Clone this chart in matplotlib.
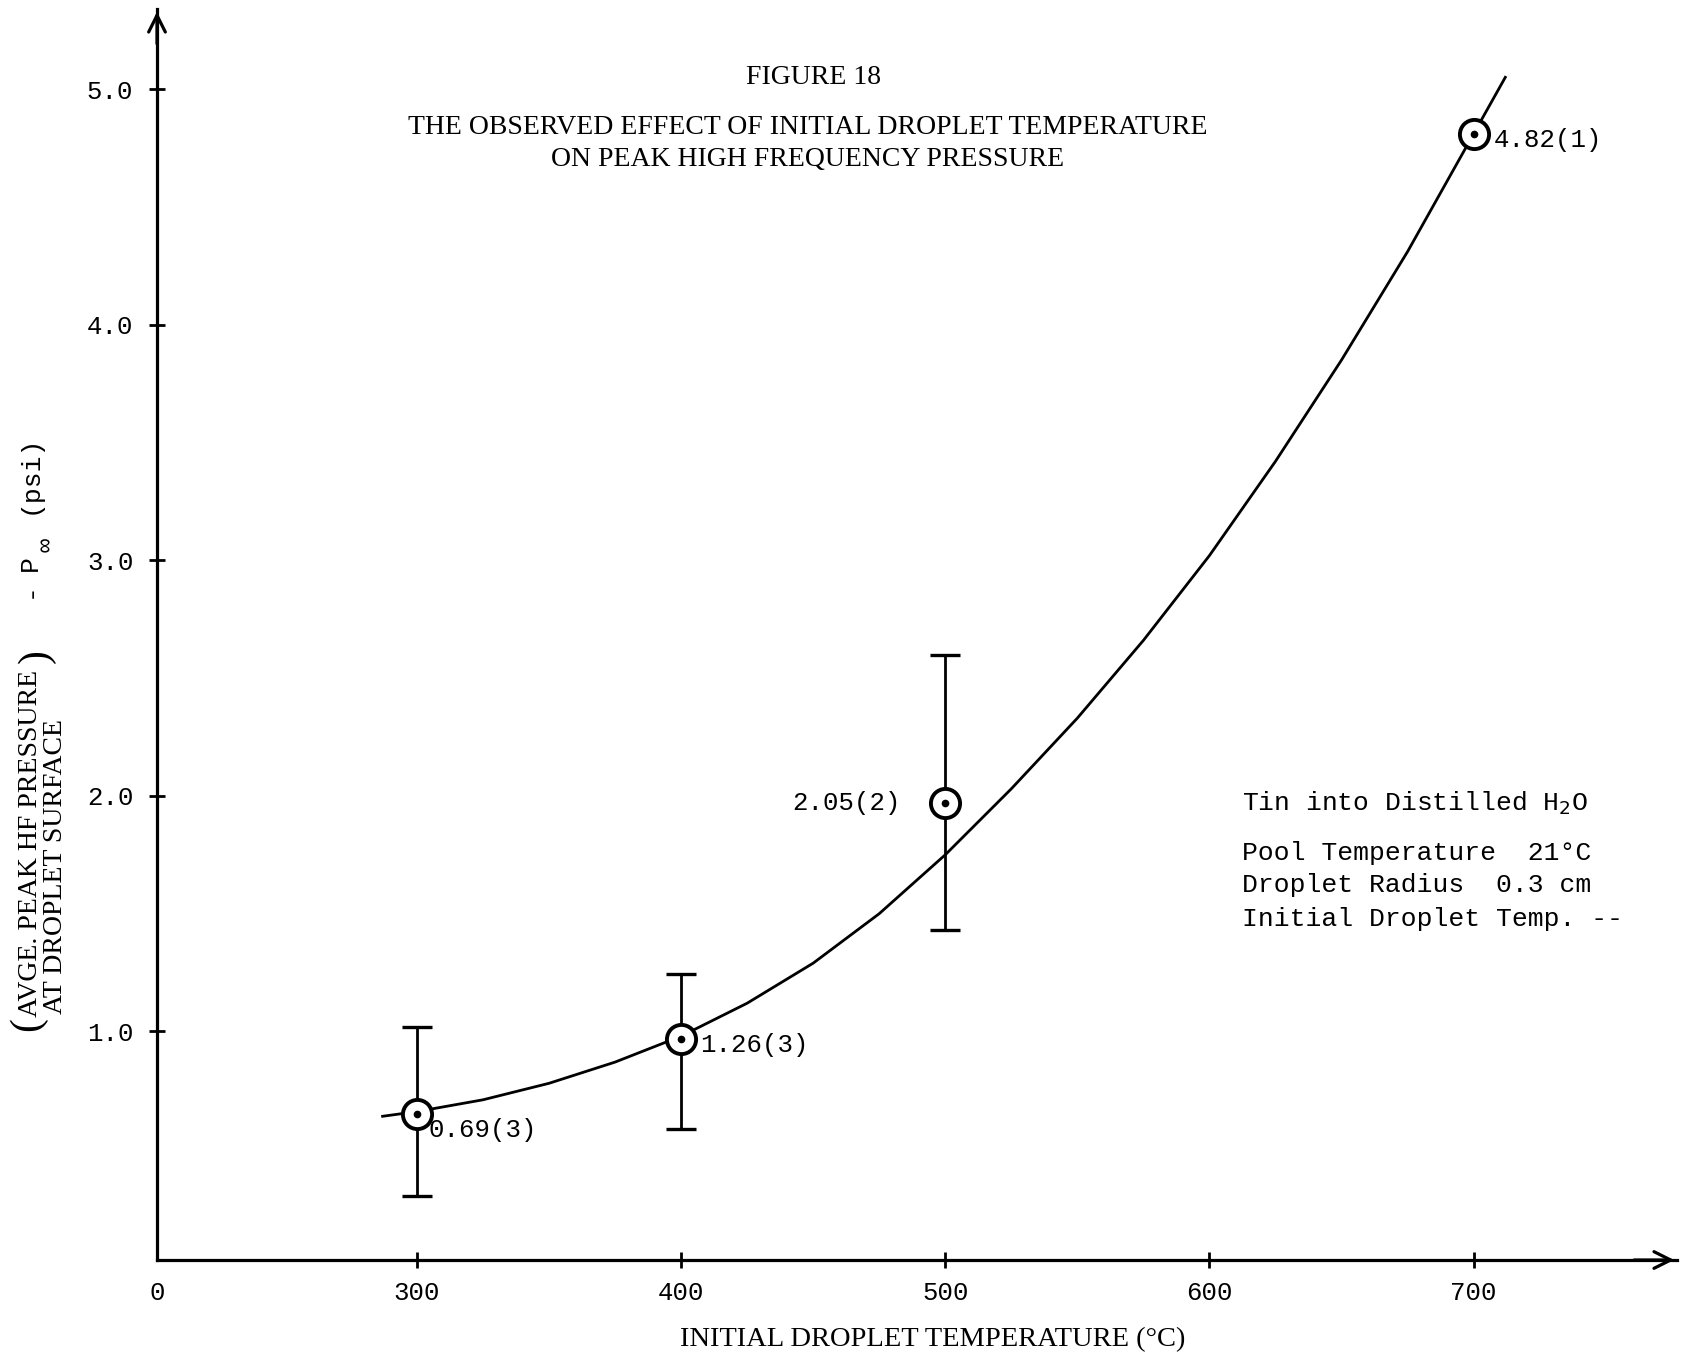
import matplotlib
matplotlib.use("Agg")
import matplotlib.pyplot as plt
import numpy as np

# data
pt_temp = [300, 400, 500, 700]
pt_pres = [0.65, 0.97, 1.97, 4.81]
pt_text = ["0.69(3)", "1.26(3)", "2.05(2)", "4.82(1)"]

bar_temp = [300, 400, 500]
bar_mid = [0.65, 0.97, 1.97]
bar_low = [0.30, 0.585, 1.43]
bar_high = [1.02, 1.245, 2.60]

curve_temp = [287, 300, 325, 350, 375, 400, 425, 450, 475, 500, 525, 550,
              575, 600, 625, 650, 675, 690, 700, 712]
curve_pres = [0.64, 0.66, 0.71, 0.78, 0.87, 0.98, 1.12, 1.29, 1.50, 1.75, 2.03, 2.33,
              2.66, 3.02, 3.42, 3.85, 4.31, 4.61, 4.81, 5.05]

x_ticks = [300, 400, 500, 600, 700]
y_ticks = [1.0, 2.0, 3.0, 4.0, 5.0]

legend_lines = ["Tin into Distilled H$_2$O", "Pool Temperature  21°C",
                "Droplet Radius  0.3 cm", "Initial Droplet Temp. --"]

W, H = 1691, 1357
mono = ["Liberation Mono", "DejaVu Sans Mono"]
serif = ["Liberation Serif", "DejaVu Serif"]

fig = plt.figure(figsize=(W / 100, H / 100), dpi=100)
ax = fig.add_axes([157 / W, 1 - 1260 / H, (1677 - 157) / W, (1260 - 9) / H])

xmin, xmax = 201.6, 777
ax.set_xlim(xmin, xmax)
ax.set_ylim(0.03, 5.34)

for s in ["top", "right"]:
    ax.spines[s].set_visible(False)
for s in ["left", "bottom"]:
    ax.spines[s].set_linewidth(2.3)

# arrow heads on the axes
ax.annotate("", xy=(1.0, 0), xycoords="axes fraction", xytext=(0.97, 0),
            arrowprops=dict(arrowstyle="->", lw=2.3, mutation_scale=30))
ax.annotate("", xy=(0, 1.0), xycoords="axes fraction", xytext=(0, 0.97),
            arrowprops=dict(arrowstyle="->", lw=2.3, mutation_scale=30))

ax.set_xticks([xmin] + x_ticks)
ax.set_xticklabels(["0"] + [str(t) for t in x_ticks], family=mono, fontsize=18.5)
ax.set_yticks(y_ticks)
ax.set_yticklabels([f"{t:.1f}" for t in y_ticks], family=mono, fontsize=18.5)
ax.tick_params(axis="both", direction="inout", length=12, width=2)
ax.tick_params(axis="y", pad=11)
ax.tick_params(axis="x", pad=9)
ax.xaxis.get_major_ticks()[0].tick1line.set_visible(False)

# fitted curve
ax.plot(curve_temp, curve_pres, color="black", lw=2.0, zorder=2,
        solid_joinstyle="round")

# error bars
bar_mid = np.array(bar_mid)
yerr = [bar_mid - np.array(bar_low), np.array(bar_high) - bar_mid]
ax.errorbar(bar_temp, bar_mid, yerr=yerr, fmt="none", ecolor="black",
            elinewidth=2.0, capsize=11, capthick=2.4, zorder=3)

# data points: open circle with centre dot
ax.plot(pt_temp, pt_pres, "o", ms=21, mfc="white", mec="black", mew=2.8, zorder=4)
ax.plot(pt_temp, pt_pres, "o", ms=4.5, color="black", zorder=5)

offsets = [(8.6, -11.6, "left"), (14, -5, "left"), (-32, 0, "right"), (14.8, -4.6, "left")]
for t, p, s, (dx, dy, ha) in zip(pt_temp, pt_pres, pt_text, offsets):
    ax.annotate(s, (t, p), xytext=(dx, dy), textcoords="offset points",
                ha=ha, va="center", family=mono, fontsize=18.5, zorder=6)

# titles
fig.text(814 / W, 1 - 78 / H, "FIGURE 18", ha="center", va="center",
         family=serif, fontsize=20)
fig.text(808 / W, 1 - 127 / H, "THE OBSERVED EFFECT OF INITIAL DROPLET TEMPERATURE",
         ha="center", va="center", family=serif, fontsize=20)
fig.text(808 / W, 1 - 160 / H, "ON PEAK HIGH FREQUENCY PRESSURE",
         ha="center", va="center", family=serif, fontsize=20)

fig.text(933 / W, 1 - 1340 / H, "INITIAL DROPLET TEMPERATURE (°C)",
         ha="center", va="center", family=serif, fontsize=20.5)

# y label pieces
fig.text(31 / W, 1 - 843 / H, "AVGE. PEAK HF PRESSURE", rotation=90,
         ha="center", va="center", family=serif, fontsize=20)
fig.text(56 / W, 1 - 866 / H, "AT DROPLET SURFACE", rotation=90,
         ha="center", va="center", family=serif, fontsize=20)
fig.text(28 / W, 1 - 1024 / H, "(", rotation=90, ha="center", va="center",
         family=serif, fontsize=30)
fig.text(36 / W, 1 - 656 / H, ")", rotation=90, ha="center", va="center",
         family=serif, fontsize=30)
fig.text(30 / W, 1 - 590 / H, "-", rotation=90, ha="center", va="center",
         family=mono, fontsize=19)
fig.text(30 / W, 1 - 563 / H, "P", rotation=90, ha="center", va="center",
         family=mono, fontsize=19)
fig.text(47 / W, 1 - 545 / H, "∞", rotation=90, ha="center", va="center",
         family=mono, fontsize=17)
fig.text(30 / W, 1 - 474 / H, "(psi)", rotation=90, ha="center", va="center",
         family=mono, fontsize=19)

# legend block
legend_y = [803, 853, 885, 919]
for line, y in zip(legend_lines, legend_y):
    fig.text(1242 / W, 1 - y / H, line, ha="left", va="center",
             family=mono, fontsize=19)

fig.savefig("out.png", dpi=100, facecolor="white")
